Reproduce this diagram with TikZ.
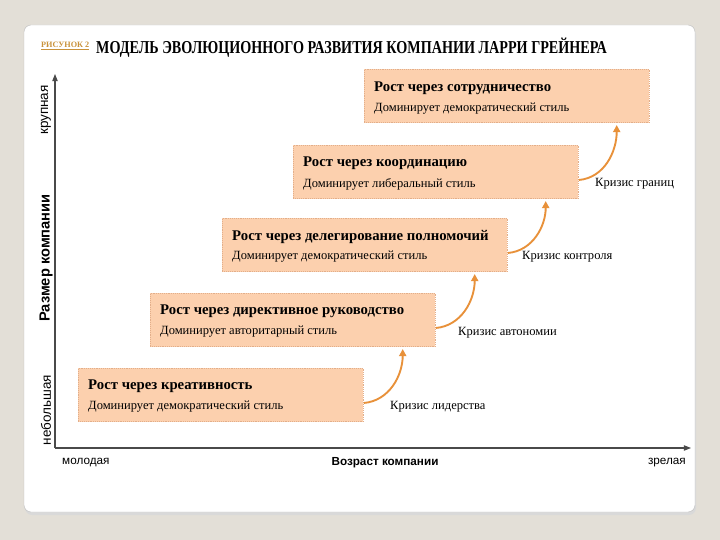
\documentclass[tikz,border=0pt]{standalone}
\usepackage{fontspec}
\setmainfont{Liberation Serif}
\setsansfont{Liberation Sans}
\usetikzlibrary{arrows.meta,calc}
\definecolor{bg}{HTML}{E3DFD7}
\definecolor{peach}{HTML}{FCD0AE}
\definecolor{peachline}{HTML}{E2AE8A}
\definecolor{arr}{HTML}{E8913A}
\definecolor{axiscol}{HTML}{4A4A4A}
\definecolor{gold}{HTML}{C9923A}
\begin{document}
\begin{tikzpicture}[x=0.03cm,y=-0.03cm,
  growbox/.style={draw=peachline, densely dotted, line width=0.6pt, fill=peach,
    minimum width=8.55cm, minimum height=1.6cm, anchor=north west, inner sep=0pt},
  ttl/.style={anchor=west, inner sep=0pt, font=\fontsize{12.6}{14}\selectfont\bfseries},
  sub/.style={anchor=west, inner sep=0pt, font=\fontsize{10.7}{12}\selectfont},
  crisis/.style={anchor=west, inner sep=0pt, font=\fontsize{10.7}{12}\selectfont},
  crisisarrow/.style={draw=arr, line width=1.6pt, -{Triangle[length=6pt,width=6pt]}},
  axisline/.style={draw=axiscol, line width=0.9pt, -{Triangle[length=6pt,width=4.5pt]}},
  ylab/.style={rotate=90, inner sep=0pt, font=\sffamily\fontsize{11.5}{13}\selectfont},
  xlab/.style={inner sep=0pt, font=\sffamily\fontsize{10}{12}\selectfont}]
\fill[bg] (0,0) rectangle (720,540);
\useasboundingbox (0,0) rectangle (720,540);
% card
\fill[black!15, rounded corners=6pt] (25,28) rectangle (696,515);
\draw[draw=black!25, fill=white, rounded corners=6pt] (24,25) rectangle (695,512);
% title
\node[anchor=west, inner sep=0pt, text=gold, font=\fontsize{7}{9}\selectfont\bfseries] (fig) at (41,46) {\underline{РИСУНОК 2}};
\node[anchor=west, inner sep=0pt, font=\fontsize{15.5}{17}\selectfont\bfseries] (title) at (96,48)
  {\scalebox{0.78}[1]{МОДЕЛЬ ЭВОЛЮЦИОННОГО РАЗВИТИЯ КОМПАНИИ ЛАРРИ ГРЕЙНЕРА}};
% boxes
\node[growbox] (b1) at (78,368) {};
\node[growbox] (b2) at (150,293) {};
\node[growbox] (b3) at (222,218) {};
\node[growbox] (b4) at (293,145) {};
\node[growbox] (b5) at (364,69) {};
\node[ttl] (t1) at (88,386) {Рост через креативность};
\node[sub] (s1) at (88,407) {Доминирует демократический стиль};
\node[ttl] (t2) at (160,311) {Рост через директивное руководство};
\node[sub] (s2) at (160,332) {Доминирует авторитарный стиль};
\node[ttl] (t3) at (232,237) {Рост через делегирование полномочий};
\node[sub] (s3) at (232,257) {Доминирует демократический стиль};
\node[ttl] (t4) at (303,163) {Рост через координацию};
\node[sub] (s4) at (303,184) {Доминирует либеральный стиль};
\node[ttl] (t5) at (374,88) {Рост через сотрудничество};
\node[sub] (s5) at (374,109) {Доминирует демократический стиль};
% crises
\node[crisis] (c1) at (390,407) {Кризис лидерства};
\node[crisis] (c2) at (458,333) {Кризис автономии};
\node[crisis] (c3) at (522,257) {Кризис контроля};
\node[crisis] (c4) at (595,184) {Кризис границ};
\draw[crisisarrow] ($(b1.east)+(0,8)$) to[out=5,in=-90] ($(b2.south east)+(-33,2)$);
\draw[crisisarrow] ($(b2.east)+(0,8)$) to[out=5,in=-90] ($(b3.south east)+(-33,2)$);
\draw[crisisarrow] ($(b3.east)+(0,8)$) to[out=5,in=-90] ($(b4.south east)+(-33,2)$);
\draw[crisisarrow] ($(b4.east)+(0,8)$) to[out=5,in=-90] ($(b5.south east)+(-33,2)$);
% axes
\coordinate (O) at (55,448);
\coordinate (ytop) at (55,74);
\coordinate (xend) at (691,448);
\draw[axisline] (O) -- (ytop);
\draw[axisline] (O) -- (xend);
\node[ylab] (ysmall) at (46,410) {небольшая};
\node[ylab, font=\sffamily\fontsize{12.5}{14}\selectfont\bfseries] (yname) at (46,258) {Размер компании};
\node[ylab] (ybig) at (46,110) {крупная};
\node[xlab, anchor=west] (xyoung) at (62,463) {молодая};
\node[xlab, font=\sffamily\fontsize{10}{12}\selectfont\bfseries] (xname) at (385,463) {Возраст компании};
\node[xlab, anchor=east] (xold) at (686,463) {зрелая};
\end{tikzpicture}
\end{document}
